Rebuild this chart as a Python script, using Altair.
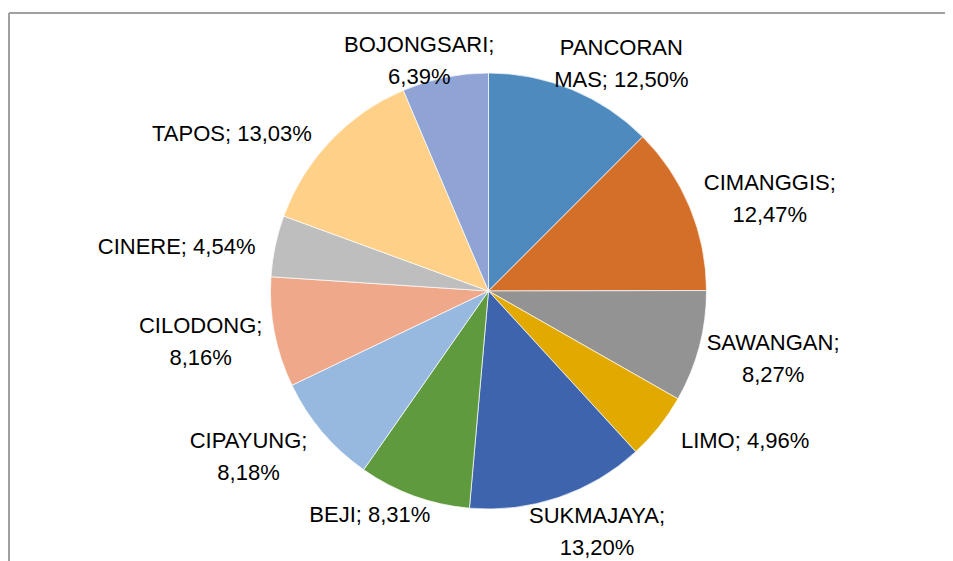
import altair as alt
import pandas as pd

names = ["PANCORAN MAS", "CIMANGGIS", "SAWANGAN", "LIMO", "SUKMAJAYA", "BEJI",
         "CIPAYUNG", "CILODONG", "CINERE", "TAPOS", "BOJONGSARI"]
values = [12.50, 12.47, 8.27, 4.96, 13.20, 8.31, 8.18, 8.16, 4.54, 13.03, 6.39]
labels = ["PANCORAN\nMAS; 12,50%", "CIMANGGIS;\n12,47%", "SAWANGAN;\n8,27%",
          "LIMO; 4,96%", "SUKMAJAYA;\n13,20%", "BEJI; 8,31%", "CIPAYUNG;\n8,18%",
          "CILODONG;\n8,16%", "CINERE; 4,54%", "TAPOS; 13,03%", "BOJONGSARI;\n6,39%"]
colors = ["#4E8ABE", "#D46F2A", "#939393", "#E2AA00", "#3D64AD", "#5F9A3E",
          "#97B9E0", "#F0A88A", "#BEBEBE", "#FFD088", "#8FA3D4"]

df = pd.DataFrame({
    "i": list(range(len(names))),
    "name": names,
    "value": values,
    "label": labels,
    "nlines": [l.count("\n") + 1 for l in labels],
    "nchars": [max(len(p) for p in l.split("\n")) for l in labels],
})

W, H = 936, 553
CX, CY, R = 479.5, 278, 218
LH = 32

pie = alt.Chart(df).mark_arc(radius=R, stroke="white", strokeWidth=0.7).encode(
    theta=alt.Theta("value:Q", stack=True),
    order=alt.Order("i:Q"),
    color=alt.Color("name:N", scale=alt.Scale(domain=names, range=colors), legend=None),
    x=alt.value(CX), y=alt.value(CY),
)

text = alt.Chart(df).transform_window(
    cum="sum(value)", sort=[alt.SortField("i")], frame=[None, 0]
).transform_joinaggregate(
    total="sum(value)"
).transform_calculate(
    mid="(datum.cum - datum.value / 2) / datum.total * 2 * PI",
    s="sin(datum.mid)",
    c="cos(datum.mid)",
    hw="datum.nchars * 6.2",
    hh=f"datum.nlines * {LH / 2}",
    ex=f"{CX} + {R} * datum.s",
    ey=f"{CY} - {R} * datum.c",
    lx="datum.ex + (datum.s < 0 ? -1 : 1) * min(1, abs(datum.s) * 1.5) * (datum.hw + 18)",
    lyc="clamp(datum.ey - datum.c * datum.hh, 44, 516) + 4",
    ly=f"datum.lyc - (datum.nlines - 1) * {LH / 2}",
).mark_text(
    font="Liberation Sans", fontSize=22, lineHeight=LH, lineBreak="\n",
    align="center", baseline="middle", color="#000000",
).encode(
    text="label:N",
    x=alt.X("lx:Q", scale=None),
    y=alt.Y("ly:Q", scale=None),
)

frame_top = alt.Chart(df).mark_rule(color="#A0A0A0", strokeWidth=1.5).encode(
    x=alt.value(0), x2=alt.value(W), y=alt.value(0)
)
frame_left = alt.Chart(df).mark_rule(color="#A0A0A0", strokeWidth=1.5).encode(
    x=alt.value(0), y=alt.value(0), y2=alt.value(H)
)

chart = alt.layer(frame_top, frame_left, pie, text).properties(
    width=W, height=H,
    autosize=alt.AutoSizeParams(type="none"),
    padding={"left": 1, "top": 5, "right": 0, "bottom": 0},
).configure_view(stroke=None)

chart.save("out.html", embed_options={"renderer": "svg", "actions": False})
